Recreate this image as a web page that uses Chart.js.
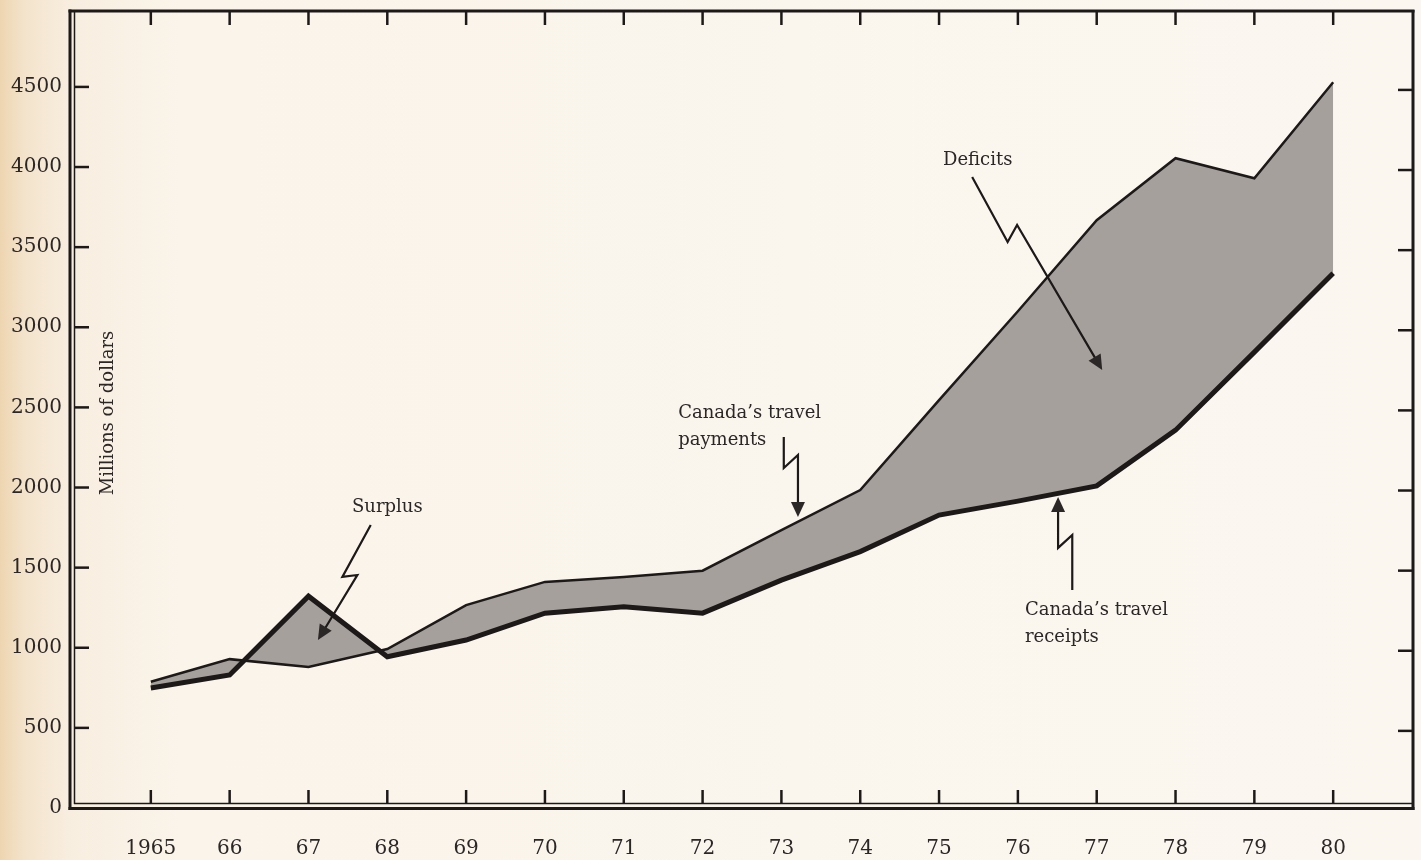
<!DOCTYPE html>
<html>
<head>
<meta charset="utf-8">
<title>Canada's travel payments and receipts, 1965-80</title>
<script src="https://cdn.jsdelivr.net/npm/chart.js"></script>
<style>
    html, body {
        margin: 0;
        padding: 0;
    }
    body {
        width: 1421px;
        height: 860px;
        overflow: hidden;
        background: linear-gradient(to right, #eed5b1 0px, #f3e3cb 24px, #f8eee0 70px, #faf4ea 180px, #fbf7f0 100%);
    }
    .chart-box {
        position: relative;
        width: 1421px;
        height: 860px;
    }
</style>
</head>
<body>
<div class="chart-box">
    <canvas id="travelChart"></canvas>
</div>

<script>
// data (millions of dollars)
const years = [1965, 1966, 1967, 1968, 1969, 1970, 1971, 1972, 1973, 1974, 1975, 1976, 1977, 1978, 1979, 1980];
const yearLabels = ['1965', '66', '67', '68', '69', '70', '71', '72', '73', '74', '75', '76', '77', '78', '79', '80'];
const payments = [788, 929, 880, 992, 1266, 1411, 1441, 1481, 1734, 1984, 2545, 3100, 3668, 4055, 3930, 4529];
const receipts = [749, 830, 1322, 944, 1048, 1216, 1256, 1216, 1422, 1600, 1828, 1915, 2010, 2358, 2845, 3337];
const yTicks = [0, 500, 1000, 1500, 2000, 2500, 3000, 3500, 4000, 4500];

const INK = '#1d1919';
const TEXT = '#2c2727';
const SHADE = '#a5a09b';
const FONT = '"DejaVu Serif", serif';

// labels and zigzag arrows, placed in data units (year, millions)
const notes = [
    { lines: ['Surplus'], at: [1968.0, 1878], align: 'center',
      path: [[1967.79, 1766], [1967.43, 1442], [1967.62, 1454], [1967.12, 1048]] },
    { lines: ['Canada\u2019s travel', 'payments'], at: [1971.69, 2465], align: 'left',
      path: [[1973.03, 2315], [1973.03, 2122], [1973.21, 2203], [1973.21, 1816]] },
    { lines: ['Deficits'], at: [1975.49, 4044], align: 'center',
      path: [[1975.42, 3938], [1975.87, 3532], [1975.99, 3638], [1977.07, 2733]] },
    { lines: ['Canada\u2019s travel', 'receipts'], at: [1976.09, 1236], align: 'left',
      path: [[1976.69, 1360], [1976.69, 1704], [1976.51, 1623], [1976.51, 1941]] }
];

// frame: double line left/bottom, single top/right, ticks pointing inward
const framePlugin = {
    id: 'frame',
    afterDraw(chart) {
        const ctx = chart.ctx;
        const a = chart.chartArea;
        const x = chart.scales.x;
        const y = chart.scales.y;

        function seg(x1, y1, x2, y2, w) {
            ctx.lineWidth = w;
            ctx.beginPath();
            ctx.moveTo(x1, y1);
            ctx.lineTo(x2, y2);
            ctx.stroke();
        }

        ctx.save();
        ctx.strokeStyle = INK;
        ctx.lineCap = 'butt';

        seg(a.left - 3.5, a.top + 1, a.right + 2.5, a.top + 1, 3);       // top
        seg(a.right + 1, a.top, a.right + 1, a.bottom + 2, 3);           // right
        seg(a.left - 2, a.top - 0.5, a.left - 2, a.bottom + 2, 3);       // left outer
        seg(a.left + 2.5, a.top + 2, a.left + 2.5, a.bottom - 4, 1.5);   // left inner
        seg(a.left - 3.5, a.bottom + 0.5, a.right + 2.5, a.bottom + 0.5, 3); // bottom outer
        seg(a.left + 2, a.bottom - 4.5, a.right, a.bottom - 4.5, 1.5);   // bottom inner

        years.forEach(function(yr) {
            const px = x.getPixelForValue(yr);
            seg(px, a.bottom - 5, px, a.bottom - 18, 2.5);
            seg(px, a.top + 2, px, a.top + 15, 2.5);
        });
        yTicks.forEach(function(v) {
            if (v === 0) return;
            const py = y.getPixelForValue(v);
            seg(a.left + 3, py, a.left + 17, py, 2.5);
            seg(a.right, py + 3, a.right - 14, py + 3, 2.5);
        });

        // y axis title, inside the frame
        ctx.fillStyle = TEXT;
        ctx.font = '18px ' + FONT;
        ctx.textAlign = 'center';
        ctx.textBaseline = 'middle';
        ctx.translate(a.left + 36, y.getPixelForValue(2465));
        ctx.rotate(-Math.PI / 2);
        ctx.fillText('Millions of dollars', 0, 0);
        ctx.restore();

        // annotations
        ctx.save();
        ctx.fillStyle = TEXT;
        ctx.strokeStyle = INK;
        ctx.font = '18px ' + FONT;
        ctx.textBaseline = 'middle';
        notes.forEach(function(n) {
            ctx.textAlign = n.align;
            const tx = x.getPixelForValue(n.at[0]);
            const ty = y.getPixelForValue(n.at[1]);
            n.lines.forEach(function(txt, i) {
                ctx.fillText(txt, tx, ty + i * 27);
            });

            const pts = n.path.map(function(p) {
                return [x.getPixelForValue(p[0]), y.getPixelForValue(p[1])];
            });
            const tip = pts[pts.length - 1];
            const prev = pts[pts.length - 2];
            const ang = Math.atan2(tip[1] - prev[1], tip[0] - prev[0]);
            const headLen = 15;
            const headHalf = 7;

            // shaft stops at the base of the head
            ctx.lineWidth = 2.2;
            ctx.lineJoin = 'miter';
            ctx.beginPath();
            ctx.moveTo(pts[0][0], pts[0][1]);
            for (let i = 1; i < pts.length - 1; i++) {
                ctx.lineTo(pts[i][0], pts[i][1]);
            }
            ctx.lineTo(tip[0] - Math.cos(ang) * (headLen - 2), tip[1] - Math.sin(ang) * (headLen - 2));
            ctx.stroke();

            ctx.beginPath();
            ctx.moveTo(tip[0], tip[1]);
            ctx.lineTo(tip[0] - Math.cos(ang) * headLen - Math.sin(ang) * headHalf,
                       tip[1] - Math.sin(ang) * headLen + Math.cos(ang) * headHalf);
            ctx.lineTo(tip[0] - Math.cos(ang) * headLen + Math.sin(ang) * headHalf,
                       tip[1] - Math.sin(ang) * headLen - Math.cos(ang) * headHalf);
            ctx.closePath();
            ctx.fill();
        });
        ctx.restore();
    }
};

const ctx = document.getElementById('travelChart').getContext('2d');
const travelChart = new Chart(ctx, {
    type: 'line',
    data: {
        datasets: [
            {
                label: 'Canada\u2019s travel payments',
                data: years.map((yr, i) => ({ x: yr, y: payments[i] })),
                borderColor: INK,
                borderWidth: 2.5,
                backgroundColor: SHADE,
                fill: { target: '+1' },
                pointRadius: 0,
                tension: 0,
                borderJoinStyle: 'miter'
            },
            {
                label: 'Canada\u2019s travel receipts',
                data: years.map((yr, i) => ({ x: yr, y: receipts[i] })),
                borderColor: INK,
                borderWidth: 5,
                fill: false,
                pointRadius: 0,
                tension: 0,
                borderJoinStyle: 'miter'
            }
        ]
    },
    options: {
        responsive: true,
        maintainAspectRatio: false,
        animation: false,
        layout: {
            padding: { top: 10, right: 9, left: 0, bottom: 0 }
        },
        plugins: {
            legend: { display: false },
            tooltip: { enabled: false },
            filler: { drawTime: 'beforeDatasetsDraw' }
        },
        scales: {
            x: {
                type: 'linear',
                min: 1964,
                max: 1981,
                offset: false,
                afterBuildTicks: function(scale) {
                    scale.ticks = years.map(v => ({ value: v }));
                },
                afterFit: function(scale) {
                    scale.height = 52;
                    scale.paddingLeft = 0;
                    scale.paddingRight = 0;
                },
                grid: { display: false, drawTicks: false },
                border: { display: false },
                ticks: {
                    padding: 29,
                    maxRotation: 0,
                    autoSkip: false,
                    color: TEXT,
                    font: { family: FONT, size: 20 },
                    callback: function(value) {
                        const i = years.indexOf(value);
                        return i >= 0 ? yearLabels[i] : '';
                    }
                }
            },
            y: {
                min: 0,
                max: 4980,
                afterBuildTicks: function(scale) {
                    scale.ticks = yTicks.map(v => ({ value: v }));
                },
                afterFit: function(scale) {
                    scale.width = 72;
                    scale.paddingTop = 0;
                    scale.paddingBottom = 0;
                },
                grid: { display: false, drawTicks: false },
                border: { display: false },
                ticks: {
                    padding: 10,
                    color: TEXT,
                    font: { family: FONT, size: 20 },
                    callback: function(value) {
                        return String(value);
                    }
                }
            }
        }
    },
    plugins: [framePlugin]
});
</script>
</body>
</html>
